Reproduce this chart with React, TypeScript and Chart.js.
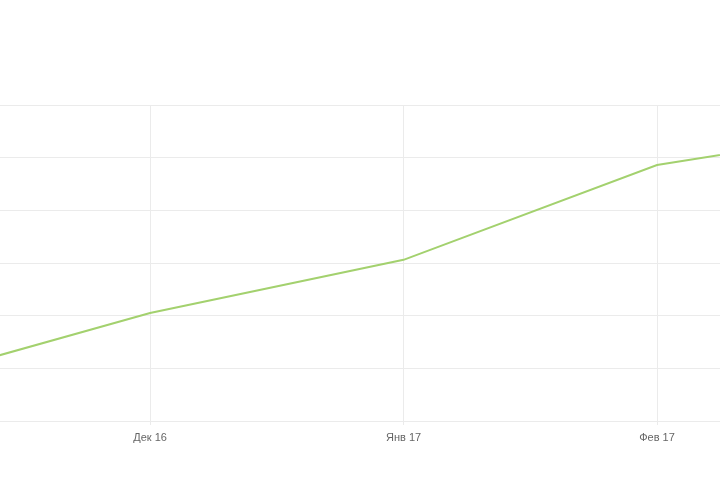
import React, { useEffect, useRef } from "react";
import { Chart, registerables } from "chart.js";

Chart.register(...registerables);

const months = ["Ноя 16", "Дек 16", "Янв 17", "Фев 17", "Мар 17"];
const values = [70, 205, 306, 486, 563];
const xMin = 0.408;
const xMax = 3.2485;
const yMin = 0;
const yMax = 600;
const yStep = 100;

export default function App() {
  const ref = useRef<HTMLCanvasElement | null>(null);
  useEffect(() => {
    if (!ref.current) return;
    const chart = new Chart(ref.current, {
      type: "line",
      data: {
        datasets: [
          {
            data: values.map((v, i) => ({ x: i, y: v })),
            borderColor: "#a3d16e",
            backgroundColor: "#a3d16e",
            borderWidth: 2,
            pointRadius: 0,
            tension: 0,
            fill: false,
          },
        ],
      },
      options: {
        animation: false,
        responsive: true,
        maintainAspectRatio: false,
        layout: { padding: { top: 105, left: 0, right: 0, bottom: 0 } },
        plugins: { legend: { display: false }, tooltip: { enabled: false } },
        scales: {
          x: {
            type: "linear",
            min: xMin,
            max: xMax,
            afterFit: (s: any) => {
              s.height = 59;
            },
            border: { display: false },
            grid: { color: "#ebebeb", drawTicks: true, tickLength: 4 },
            ticks: {
              stepSize: 1,
              includeBounds: false,
              padding: 6,
              color: "#666",
              font: { family: "Liberation Sans, Arial, sans-serif", size: 11 },
              maxRotation: 0,
              callback: (v: any) => months[Math.round(Number(v))] ?? "",
            },
          },
          y: {
            min: yMin,
            max: yMax,
            afterFit: (s: any) => {
              s.width = 0;
            },
            border: { display: false },
            grid: { color: "#ebebeb", drawTicks: false },
            ticks: { display: false, stepSize: yStep },
          },
        },
      },
    });
    return () => chart.destroy();
  }, []);
  return (
    <div
      style={{
        position: "fixed",
        left: 0,
        top: 0,
        width: 720,
        height: 480,
        background: "#fff",
      }}
    >
      <canvas ref={ref} />
    </div>
  );
}
